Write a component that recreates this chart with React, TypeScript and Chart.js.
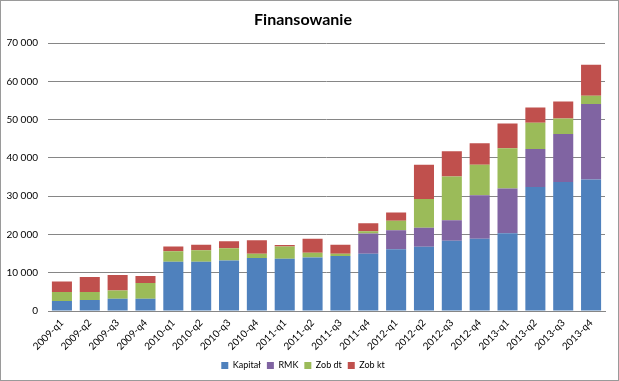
import React, { useEffect, useRef } from "react";
import { Chart, registerables } from "chart.js";

Chart.register(...registerables);

const categories = [
  "2009-q1", "2009-q2", "2009-q3", "2009-q4",
  "2010-q1", "2010-q2", "2010-q3", "2010-q4",
  "2011-q1", "2011-q2", "2011-q3", "2011-q4",
  "2012-q1", "2012-q2", "2012-q3", "2012-q4",
  "2013-q1", "2013-q2", "2013-q3", "2013-q4",
];

const kapital = [2600, 2870, 3220, 3220, 12870, 12870, 13220, 13830, 13650, 14000, 14350, 14960, 16170, 16780, 18350, 18870, 20350, 32430, 33740, 34350];
const rmk = [0, 0, 0, 0, 0, 0, 0, 0, 0, 0, 0, 5300, 4960, 4960, 5390, 11390, 11650, 9920, 12520, 19740];
const zobDt = [2360, 2090, 2170, 4080, 2780, 3040, 3210, 1130, 3220, 1220, 610, 610, 2440, 7560, 11390, 8000, 10520, 6870, 4090, 2170];
const zobKt = [2780, 3910, 4000, 1830, 1220, 1390, 1830, 3560, 350, 3650, 2340, 2090, 2170, 8960, 6610, 5570, 6520, 4000, 4430, 8090];

const yTicks = [0, 10000, 20000, 30000, 40000, 50000, 60000, 70000];

const fmt = (v: number) => String(v).replace(/\B(?=(\d{3})+(?!\d))/g, " ");

export default function App() {
  const ref = useRef<HTMLCanvasElement | null>(null);
  useEffect(() => {
    if (!ref.current) return;
    const font = "Lato, 'Open Sans', sans-serif";
    const chart = new Chart(ref.current, {
      type: "bar",
      data: {
        labels: categories,
        datasets: [
          { label: "Kapitał", data: kapital, backgroundColor: "#4F81BD" },
          { label: "RMK", data: rmk, backgroundColor: "#8064A2" },
          { label: "Zob dt", data: zobDt, backgroundColor: "#9BBB59" },
          { label: "Zob kt", data: zobKt, backgroundColor: "#C0504D" },
        ],
      },
      options: {
        animation: false,
        responsive: false,
        maintainAspectRatio: false,
        layout: { padding: { left: 0, right: 13, top: 0, bottom: 0 } },
        datasets: { bar: { categoryPercentage: 1, barPercentage: 0.72 } },
        scales: {
          x: {
            stacked: true,
            grid: { display: false, drawTicks: false },
            border: { display: true, color: "#868686" },
            ticks: {
              maxRotation: 45, minRotation: 45, autoSkip: false,
              color: "#000", font: { family: font, size: 10 }, padding: 6,
            },
            afterFit: (s: any) => { s.height = 44; },
          },
          y: {
            stacked: true,
            min: 0, max: 70000,
            afterBuildTicks: (s: any) => { s.ticks = yTicks.map((v) => ({ value: v })); },
            grid: { color: "#868686", drawTicks: false },
            border: { display: false },
            ticks: {
              color: "#000", font: { family: font, size: 10 }, padding: 10,
              callback: (v: any) => fmt(Number(v)),
            },
            afterFit: (s: any) => { s.width = 47; },
          },
        },
        plugins: {
          title: {
            display: true, text: "Finansowanie", color: "#000",
            font: { family: font, size: 16, weight: "bold" },
            padding: { top: 9, bottom: 14 },
          },
          legend: {
            position: "bottom",
            labels: {
              boxWidth: 7, boxHeight: 7, padding: 6, color: "#000",
              font: { family: font, size: 9 },
            },
          },
          tooltip: { enabled: false },
        },
      },
    } as any);
    return () => chart.destroy();
  }, []);
  return (
    <div style={{ position: "fixed", left: 0, top: 0, width: 619, height: 381, background: "#fff", boxSizing: "border-box", border: "1px solid #9a9a9a" }}>
      <canvas ref={ref} width={617} height={379} style={{ display: "block" }} />
    </div>
  );
}
